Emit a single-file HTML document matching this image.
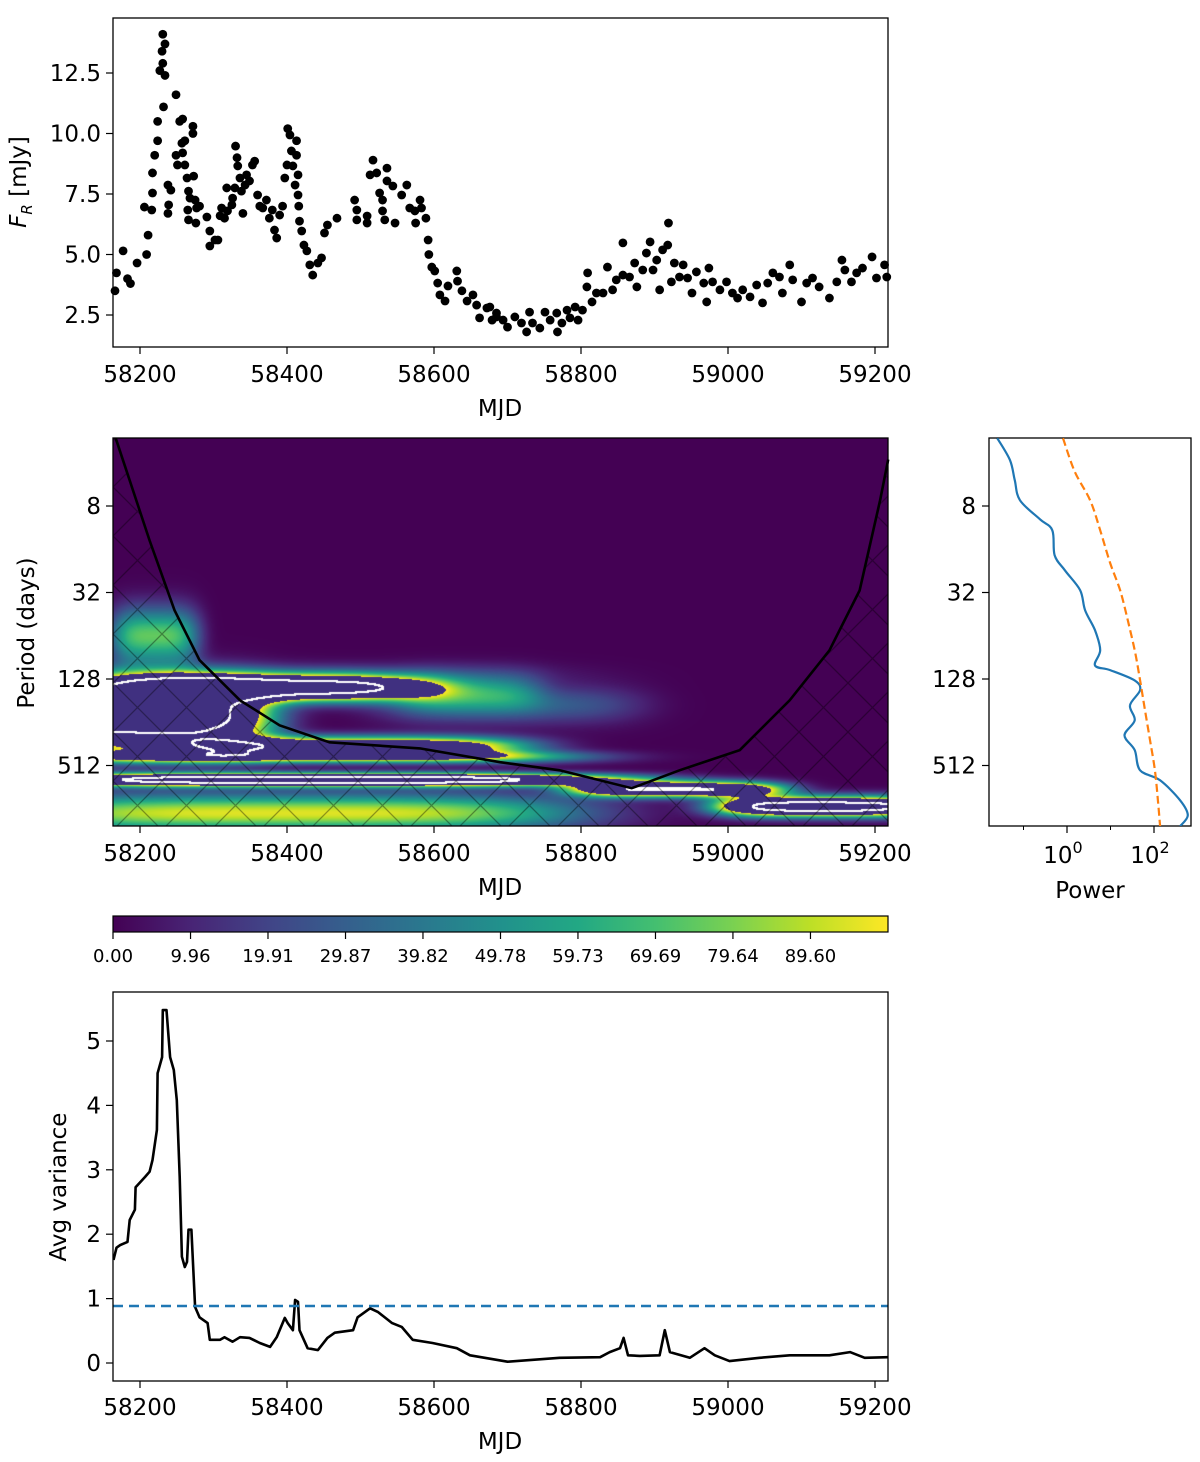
<!DOCTYPE html>
<html><head><meta charset="utf-8">
<style>
html,body{margin:0;padding:0;background:#fff;}
#wrap{position:relative;width:1200px;height:1462px;overflow:hidden;font-family:"DejaVu Sans","Liberation Sans",sans-serif;}
#heat{position:absolute;left:113px;top:438px;width:775px;height:388px;}
#svg{position:absolute;left:0;top:0;}
</style></head>
<body>
<div id="wrap">
<canvas id="heat" width="775" height="388"></canvas>
<svg id="svg" width="1200" height="1462" xmlns="http://www.w3.org/2000/svg">
<defs>
<pattern id="hatch" patternUnits="userSpaceOnUse" width="49" height="49" x="113" y="438">
<path d="M0,0L49,49M49,0L0,49" stroke="#000" stroke-opacity="0.35" stroke-width="1.3"/>
</pattern>
<linearGradient id="vir" x1="0" x2="1" y1="0" y2="0">
<stop offset="0" stop-color="#440154"/><stop offset="0.1" stop-color="#482475"/><stop offset="0.2" stop-color="#414487"/><stop offset="0.3" stop-color="#355f8d"/><stop offset="0.4" stop-color="#2a788e"/><stop offset="0.5" stop-color="#21918c"/><stop offset="0.6" stop-color="#22a884"/><stop offset="0.7" stop-color="#44bf70"/><stop offset="0.8" stop-color="#7ad151"/><stop offset="0.9" stop-color="#bddf26"/><stop offset="1" stop-color="#fde725"/>
</linearGradient>
</defs>
<g id="g"></g>
</svg>
</div>
<script>
// ---------- DATA ----------
const fluxT = [58166,58168,58177,58183,58187,58196,58209,58211,58206,58216,58217,58217,58220,58224,58224,58232,58227,58231,58230,58234,58231,58234,58238,58239,58238,58242,58249,58254,58258,58249,58257,58261,58251,58258,58261,58264,58266,58268,58265,58266,58272,58272,58273,58275,58277,58276,58281,58291,58295,58295,58302,58306,58309,58311,58315,58318,58319,58325,58326,58329,58330,58332,58333,58336,58338,58340,58343,58345,58349,58353,58356,58360,58363,58367,58372,58376,58380,58383,58386,58390,58394,58397,58400,58401,58404,58406,58408,58413,58413,58415,58411,58415,58416,58417,58420,58423,58427,58431,58435,58442,58447,58451,58455,58468,58492,58495,58495,58509,58509,58513,58517,58522,58526,58530,58530,58533,58536,58536,58544,58547,58556,58563,58567,58574,58575,58581,58583,58589,58592,58593,58597,58601,58605,58608,58615,58619,58631,58632,58638,58645,58653,58658,58662,58672,58679,58685,58676,58685,58694,58700,58710,58719,58726,58730,58734,58744,58751,58758,58767,58768,58774,58781,58785,58792,58796,58802,58808,58809,58815,58821,58830,58836,58843,58848,58857,58857,58866,58873,58876,58884,58889,58894,58898,58903,58907,58911,58918,58919,58923,58927,58934,58939,58945,58951,58957,58967,58971,58974,58979,58989,58998,59006,59013,59020,59030,59039,59047,59054,59061,59070,59074,59084,59088,59100,59107,59115,59124,59138,59148,59155,59159,59168,59175,59183,59196,59202,59213,59216];
const fluxF = [3.5,4.24,5.15,4.0,3.8,4.65,5.0,5.8,6.96,6.84,7.54,8.37,9.1,9.7,10.5,11.1,12.6,12.9,13.4,13.7,14.1,12.4,7.87,7.05,6.7,7.66,11.6,10.5,10.6,9.1,9.6,9.7,8.7,9.2,8.7,8.16,7.62,7.33,6.84,6.43,10.3,10.0,8.24,7.25,6.92,6.3,7.0,6.55,5.97,5.35,5.6,5.6,6.6,6.92,6.5,7.75,6.8,7.05,7.33,7.75,9.48,9.0,8.66,8.16,7.62,6.7,7.87,8.29,8.04,8.7,8.86,7.46,7.0,6.92,7.25,6.5,6.84,6.01,5.68,6.63,7.0,8.16,8.7,10.2,9.94,9.28,8.66,9.7,9.1,8.29,7.87,7.46,7.0,6.38,5.97,5.39,5.15,4.57,4.15,4.65,4.86,5.89,6.22,6.5,7.25,6.84,6.43,6.59,6.3,8.29,8.9,8.37,7.54,7.25,6.8,6.43,8.57,8.04,7.83,6.3,7.46,7.87,6.92,6.8,6.3,7.25,6.92,6.5,5.6,5.0,4.48,4.32,3.82,3.33,3.08,3.7,4.32,3.9,3.5,3.08,3.33,2.91,2.38,2.79,2.29,2.58,2.83,2.42,2.29,2.0,2.42,2.17,1.8,2.62,2.17,1.96,2.62,2.29,2.58,1.8,2.17,2.7,2.38,2.83,2.29,2.7,3.66,4.24,3.04,3.41,3.41,4.48,3.54,3.95,5.48,4.15,4.07,4.65,3.66,4.36,5.06,5.52,4.36,4.77,3.54,5.19,5.39,6.3,3.87,4.65,4.07,4.57,4.03,3.41,4.28,3.82,3.04,4.44,3.87,3.54,3.87,3.41,3.2,3.54,3.25,3.74,3.0,3.82,4.24,4.07,3.41,4.57,3.95,3.04,3.82,4.03,3.66,3.2,3.87,4.77,4.36,3.87,4.24,4.44,4.9,4.03,4.57,4.07];

const xTicks = [58200,58400,58600,58800,59000,59200];
const fluxTicks = [2.5,5.0,7.5,10.0,12.5];
const periodTicks = [8,32,128,512];
const varTicks = [0,1,2,3,4,5];
const cbarTicks = [0.00,9.96,19.91,29.87,39.82,49.78,59.73,69.69,79.64,89.60];
const cbarMax = 99.56;

// wavelet power blobs (time centre, time width, log2 period centre, log2 width, amplitude)
const blobT  = [58370,58200,58480,58430,58450,58930,59130,58400,58220,58650,58700,58420];
const blobTW = [180,  140,  200,  300,  330,  120,  120,  330,  50,   80,   150,  300];
const blobL  = [7.2,  7.85, 8.55, 8.8,  9.33, 9.55, 9.95, 10.1, 6.0,  7.3,  7.6,  6.9];
const blobLW = [0.2,  0.5,  0.15, 0.1,  0.1,  0.12, 0.15, 0.3,  0.45, 0.3,  0.3,  0.2];
const blobA  = [230,  240,  150,  110,  220,  180,  220,  95,   75,   45,   30,   12];
const overLevel = 99.56, whiteLevel = 180;

// cone of influence
const coiT = [58167,58213,58247,58281,58336,58390,58458,58581,58690,58771,58869,58934,59016,59084,59138,59179,59207,59218];
const coiP = [2.7,13.9,42.5,94.6,180,269,353,389,486,553,737,553,400,180,81,31,7.3,3.8];

// global power spectrum
const gwsP = [2.7,3.84,5.3,7.3,9.9,11.8,17.6,22.4,30.8,42.5,58.6,80.7,103,111,131,153,195,248,316,400,553,649,894,1137,1355];
const gwsPow = [0.025,0.049,0.063,0.083,0.24,0.46,0.52,0.89,2.0,2.6,4.4,5.8,4.4,9.8,36,48,28,36,21,36,48,138,398,600,398];
const sigP = [2.7,4.6,7.3,11.8,19.9,30.8,50,80.7,131,211,341,553,894,1355];
const sigPow = [0.81,1.5,3.4,5.8,9.8,16.6,25,36,48,62,81,105,123,138];

// scale-averaged variance
const varT = [58164,58168,58173,58183,58186,58193,58194,58207,58213,58217,58223,58224,58230,58231,58236,58241,58246,58250,58254,58257,58261,58264,58266,58270,58275,58281,58292,58295,58309,58315,58326,58336,58349,58363,58377,58386,58397,58401,58408,58411,58415,58417,58428,58442,58455,58465,58490,58496,58513,58524,58543,58556,58571,58598,58631,58649,58685,58700,58771,58826,58839,58853,58858,58864,58880,58907,58914,58921,58948,58968,58982,59002,59043,59084,59138,59166,59186,59218];
const varV = [1.6,1.79,1.83,1.88,2.22,2.38,2.73,2.89,2.97,3.15,3.62,4.5,4.75,5.48,5.48,4.75,4.55,4.08,2.89,1.65,1.49,1.57,2.07,2.07,0.87,0.71,0.62,0.36,0.36,0.4,0.33,0.4,0.39,0.31,0.25,0.4,0.7,0.62,0.51,0.98,0.95,0.51,0.23,0.2,0.39,0.47,0.51,0.71,0.85,0.79,0.62,0.56,0.36,0.31,0.23,0.12,0.05,0.02,0.08,0.09,0.17,0.23,0.39,0.12,0.11,0.12,0.51,0.17,0.08,0.23,0.12,0.03,0.08,0.12,0.12,0.17,0.08,0.09];
const sigVar = 0.885;

// ---------- SCALES ----------
const X = t => 140 + (t - 58200) * 0.735;
const FY = f => 73 + (12.5 - f) * 24.2;
const PY = p => 506 + (Math.log2(p) - 3) * 43.25;
const PWX = p => 1067 + Math.log10(p) * 43.5;
const VY = v => 1363 - v * 64.4;
const CX = v => 113 + v / cbarMax * 775;

const NS = "http://www.w3.org/2000/svg";
const G = document.getElementById('g');
function mk(tag, attrs, parent, text) {
  const e = document.createElementNS(NS, tag);
  for (const k in attrs) e.setAttribute(k, attrs[k]);
  if (text !== undefined) e.textContent = text;
  (parent || G).appendChild(e);
  return e;
}
function smooth(pts) {
  let d = 'M' + pts[0][0].toFixed(1) + ',' + pts[0][1].toFixed(1);
  for (let i = 0; i < pts.length - 1; i++) {
    const p0 = pts[Math.max(0, i - 1)], p1 = pts[i], p2 = pts[i + 1], p3 = pts[Math.min(pts.length - 1, i + 2)];
    const c1 = [p1[0] + (p2[0] - p0[0]) / 6, p1[1] + (p2[1] - p0[1]) / 6];
    const c2 = [p2[0] - (p3[0] - p1[0]) / 6, p2[1] - (p3[1] - p1[1]) / 6];
    d += 'C' + c1[0].toFixed(1) + ',' + c1[1].toFixed(1) + ' ' + c2[0].toFixed(1) + ',' + c2[1].toFixed(1) + ' ' + p2[0].toFixed(1) + ',' + p2[1].toFixed(1);
  }
  return d;
}

// ---------- HEATMAP ----------
(function () {
  const cv = document.getElementById('heat');
  const ctx = cv.getContext('2d');
  const W = 775, H = 388;
  const img = ctx.createImageData(W, H);
  const vir = [[68,1,84],[72,36,117],[65,68,135],[53,95,141],[42,120,142],[33,145,140],[34,168,132],[68,191,112],[122,209,81],[189,223,38],[253,231,37]];
  const vals = new Float32Array(W * H);
  for (let j = 0; j < H; j++) {
    const l = 3 + (j + 438.5 - 506) / 43.25;
    for (let i = 0; i < W; i++) {
      const t = 58200 + (i + 113.5 - 140) / 0.735;
      let v = 0;
      for (let b = 0; b < blobT.length; b++) {
        const dt = (t - blobT[b]) / blobTW[b], dl = (l - blobL[b]) / blobLW[b];
        v += blobA[b] * Math.exp(-0.5 * dt * dt * dt * dt - 0.5 * dl * dl);
      }
      vals[j * W + i] = v;
    }
  }
  for (let j = 0; j < H; j++) for (let i = 0; i < W; i++) {
    const v = vals[j * W + i];
    let c;
    if (v > overLevel) {
      let edge = false;
      const above = v > whiteLevel;
      for (let dj = -1; dj <= 1 && !edge; dj++) for (let di = -1; di <= 1; di++) {
        const ii = i + di, jj = j + dj;
        if (ii < 0 || jj < 0 || ii >= W || jj >= H) continue;
        if ((vals[jj * W + ii] > whiteLevel) !== above) { edge = true; break; }
      }
      c = edge ? [255,255,255] : [64,48,128];
    } else {
      const x = Math.max(0, v) / overLevel * 10;
      const k = Math.min(9, Math.floor(x)), f = x - k;
      c = [0,1,2].map(q => vir[k][q] + (vir[k + 1][q] - vir[k][q]) * f);
    }
    const o = (j * W + i) * 4;
    img.data[o] = c[0]; img.data[o + 1] = c[1]; img.data[o + 2] = c[2]; img.data[o + 3] = 255;
  }
  ctx.putImageData(img, 0, 0);
})();

// ---------- COMMON AXIS HELPERS ----------
function xAxis(bottom, labelBase, titleBase, name) {
  xTicks.forEach(t => {
    const tk = mk('line', {x1: X(t), x2: X(t), y1: bottom, y2: bottom + 7, stroke: '#000', 'stroke-width': 1.2});
    
    
    const lb = mk('text', {x: X(t), y: labelBase, 'text-anchor': 'middle', 'font-size': 23}, G, String(t));
    
    
  });
  const ti = mk('text', {x: 500, y: titleBase, 'text-anchor': 'middle', 'font-size': 23}, G, 'MJD');
  
  
}
function frame(x, y, w, h, name) {
  const r = mk('rect', {x: x, y: y, width: w, height: h, fill: 'none', stroke: '#000', 'stroke-width': 1.3});
  
  
}

// ---------- TOP: LIGHT CURVE ----------
const gTop = mk('g', {});


fluxT.forEach((t, i) => {
  const c = mk('circle', {cx: X(t), cy: FY(fluxF[i]), r: 4.4, fill: '#000'}, gTop);
  
  
});
frame(113, 18, 775, 329, 'light-curve-axes');
fluxTicks.forEach(f => {
  const tk = mk('line', {x1: 106, x2: 113, y1: FY(f), y2: FY(f), stroke: '#000', 'stroke-width': 1.2});
  
  
  const lb = mk('text', {x: 101, y: FY(f) + 8, 'text-anchor': 'end', 'font-size': 23}, G, f.toFixed(1));
  
  
});
xAxis(347, 382, 416, 'light-curve');
const fyl = mk('text', {x: 0, y: 0, 'text-anchor': 'middle', 'font-size': 23, transform: 'translate(26,182) rotate(-90)'});


fyl.innerHTML = '<tspan font-style="italic">F</tspan><tspan font-style="italic" font-size="15" dy="6">R</tspan><tspan dy="-6"> [mJy]</tspan>';

// ---------- MIDDLE: WAVELET ----------
let poly = 'M113,438 ';
coiT.forEach((t, i) => { poly += 'L' + X(t).toFixed(1) + ',' + Math.min(826, PY(coiP[i])).toFixed(1) + ' '; });
poly += 'L888,826 L113,826 Z';
const hatch = mk('path', {d: poly, fill: 'url(#hatch)'});


let coiD = '';
coiT.forEach((t, i) => { coiD += (i ? 'L' : 'M') + X(t).toFixed(1) + ',' + PY(coiP[i]).toFixed(1) + ' '; });
const coiLine = mk('path', {d: coiD, fill: 'none', stroke: '#000', 'stroke-width': 2.6});


const cover = mk('rect', {x: 100, y: 420, width: 800, height: 18, fill: '#fff'});


frame(113, 438, 775, 388, 'wavelet-axes');
periodTicks.forEach(p => {
  const tk = mk('line', {x1: 106, x2: 113, y1: PY(p), y2: PY(p), stroke: '#000', 'stroke-width': 1.2});
  
  
  const lb = mk('text', {x: 101, y: PY(p) + 8, 'text-anchor': 'end', 'font-size': 23}, G, String(p));
  
  
});
xAxis(826, 861, 895, 'wavelet');
const pyl = mk('text', {x: 0, y: 0, 'text-anchor': 'middle', 'font-size': 23, transform: 'translate(34,633) rotate(-90)'}, G, 'Period (days)');



// ---------- SIDE: GLOBAL POWER ----------
frame(989, 438, 202, 388, 'global-power-axes');
const clipSide = mk('clipPath', {id: 'cs'});
mk('rect', {x: 989, y: 438, width: 202, height: 388}, clipSide);
const gl = mk('path', {d: smooth(gwsP.map((p, i) => [PWX(gwsPow[i]), PY(p)])), fill: 'none', stroke: '#1f77b4', 'stroke-width': 2.2, 'stroke-linejoin': 'round', 'clip-path': 'url(#cs)'});


const sl = mk('path', {d: smooth(sigP.map((p, i) => [PWX(sigPow[i]), PY(p)])), fill: 'none', stroke: '#ff7f0e', 'stroke-width': 2.2, 'stroke-dasharray': '8,4', 'clip-path': 'url(#cs)'});


periodTicks.forEach(p => {
  const tk = mk('line', {x1: 982, x2: 989, y1: PY(p), y2: PY(p), stroke: '#000', 'stroke-width': 1.2});
  
  
  const lb = mk('text', {x: 976, y: PY(p) + 8, 'text-anchor': 'end', 'font-size': 23}, G, String(p));
  
  
});
[0, 2].forEach(e => {
  const x = PWX(Math.pow(10, e));
  const tk = mk('line', {x1: x, x2: x, y1: 826, y2: 833, stroke: '#000', 'stroke-width': 1.2});
  
  
  const lb = mk('text', {x: x - 4, y: 863, 'text-anchor': 'middle', 'font-size': 23});
  
  
  lb.innerHTML = '10<tspan font-size="16" dy="-10">' + e + '</tspan>';
});
[-1, 1].forEach(e => {
  const x = PWX(Math.pow(10, e));
  const tk = mk('line', {x1: x, x2: x, y1: 826, y2: 830, stroke: '#000', 'stroke-width': 1});
  
  
});
const powl = mk('text', {x: 1090, y: 898, 'text-anchor': 'middle', 'font-size': 23}, G, 'Power');



// ---------- COLORBAR ----------
const cb = mk('rect', {x: 113, y: 916, width: 775, height: 16, fill: 'url(#vir)', stroke: '#000', 'stroke-width': 1.2});


cbarTicks.forEach(v => {
  const tk = mk('line', {x1: CX(v), x2: CX(v), y1: 932, y2: 939, stroke: '#000', 'stroke-width': 1.2});
  
  
  const lb = mk('text', {x: CX(v), y: 962, 'text-anchor': 'middle', 'font-size': 18}, G, v.toFixed(2));
  
  
});

// ---------- BOTTOM: AVG VARIANCE ----------
const clipB = mk('clipPath', {id: 'cb'});
mk('rect', {x: 113, y: 992, width: 775, height: 389}, clipB);
let vd = '';
varT.forEach((t, i) => { vd += (i ? 'L' : 'M') + X(t).toFixed(1) + ',' + VY(varV[i]).toFixed(1) + ' '; });
const vl = mk('path', {d: vd, fill: 'none', stroke: '#000', 'stroke-width': 2.6, 'stroke-linejoin': 'round', 'clip-path': 'url(#cb)'});


const sv = mk('line', {x1: 113, x2: 888, y1: VY(sigVar), y2: VY(sigVar), stroke: '#1f77b4', 'stroke-width': 2.5, 'stroke-dasharray': '10,6'});


frame(113, 992, 775, 389, 'avg-variance-axes');
varTicks.forEach(v => {
  const tk = mk('line', {x1: 106, x2: 113, y1: VY(v), y2: VY(v), stroke: '#000', 'stroke-width': 1.2});
  
  
  const lb = mk('text', {x: 101, y: VY(v) + 8, 'text-anchor': 'end', 'font-size': 23}, G, String(v));
  
  
});
xAxis(1381, 1415, 1449, 'avg-variance');
const vyl = mk('text', {x: 0, y: 0, 'text-anchor': 'middle', 'font-size': 23, transform: 'translate(66,1187) rotate(-90)'}, G, 'Avg variance');


</script>
</body></html>
